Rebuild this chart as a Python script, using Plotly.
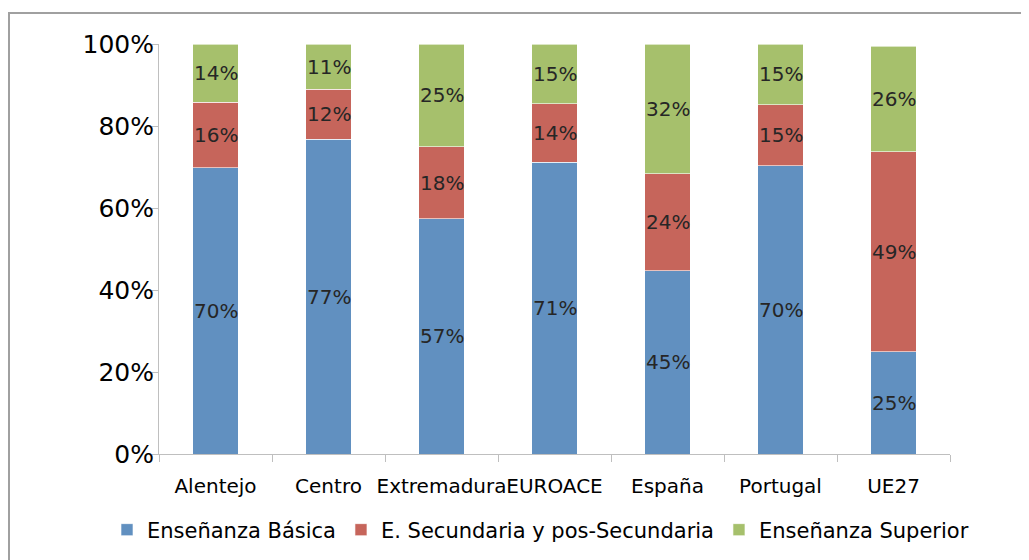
import plotly.graph_objects as go

categories = ["Alentejo", "Centro", "Extremadura", "EUROACE", "España", "Portugal", "UE27"]
basica = [69.8, 76.8, 57.4, 71.2, 44.7, 70.3, 25.0]
secundaria = [16.0, 12.2, 17.6, 14.2, 23.7, 14.9, 48.7]
superior = [14.2, 11.0, 25.0, 14.6, 31.6, 14.8, 25.8]
series_names = ["Enseñanza Básica", "E. Secundaria y pos-Secundaria", "Enseñanza Superior"]
colors = ["#6190C0", "#C6655B", "#A6C06C"]
tick_vals = [0, 20, 40, 60, 80, 100]
tick_text = [f"{v}%" for v in tick_vals]

FONT = "DejaVu Sans"
fig = go.Figure()
series = [basica, secundaria, superior]
for name, vals, col in zip(series_names, series, colors):
    fig.add_trace(go.Bar(
        x=categories, y=vals, name=name,
        marker=dict(color=col, line=dict(color="rgba(255,255,255,0.6)", width=1)),
        hoverinfo="skip",
    ))

# data labels centred in each segment, positioned from the data
base = [0.0] * len(categories)
for vals in series:
    for i, (c, v) in enumerate(zip(categories, vals)):
        fig.add_annotation(x=c, y=base[i] + v / 2, text=f"{v:.0f}%", showarrow=False,
                           xref="x", yref="y",
                           font=dict(family=FONT, size=20, color="#262626"))
        base[i] += v

# page body has an 8px margin: work in screen coordinates, then shift
OFF = 8
W, H = 1029, 560
PL, PR, PT, PB = 159, 950, 44, 454          # plot area on screen
L, T = PL - OFF, PT - OFF
R, B = W - (PR - OFF), H - (PB - OFF)
pw, ph = PR - PL, PB - PT


def px_x(sx):
    return (sx - PL) / pw


def px_y(sy):
    return (PB - sy) / ph


fig.update_layout(
    width=W, height=H,
    margin=dict(l=L, r=R, t=T, b=B, pad=0, autoexpand=False),
    barmode="stack", bargap=0.6,
    plot_bgcolor="white", paper_bgcolor="white",
    font=dict(family=FONT, color="black"),
    showlegend=True,
    legend=dict(orientation="h", x=px_x(107), xanchor="left",
                y=px_y(530), yanchor="middle",
                font=dict(family=FONT, size=21, color="black"),
                itemwidth=30, tracegroupgap=0, traceorder="normal"),
    xaxis=dict(
        showline=True, linecolor="#BFBFBF", linewidth=1,
        ticks="outside", tickson="boundaries", ticklen=7, tickcolor="#BFBFBF",
        tickfont=dict(family=FONT, size=20, color="black"), tickangle=0,
        showgrid=False, fixedrange=True, automargin=False,
        ticklabelstandoff=14,
    ),
    yaxis=dict(
        range=[0, 100], tickmode="array", tickvals=tick_vals, ticktext=tick_text,
        showline=True, linecolor="#BFBFBF", linewidth=1,
        ticks="outside", ticklen=6, tickcolor="#BFBFBF",
        tickfont=dict(family=FONT, size=25, color="black"),
        showgrid=False, zeroline=False, fixedrange=True, automargin=False,
        ticklabelstandoff=-7,
    ),
    shapes=[dict(
        type="rect", xref="paper", yref="paper",
        x0=px_x(9), x1=px_x(W + 30),
        y0=px_y(H + 30), y1=px_y(13),
        line=dict(color="#A0A0A0", width=2), fillcolor="rgba(0,0,0,0)",
    )],
)

fig.write_html("out.html")
